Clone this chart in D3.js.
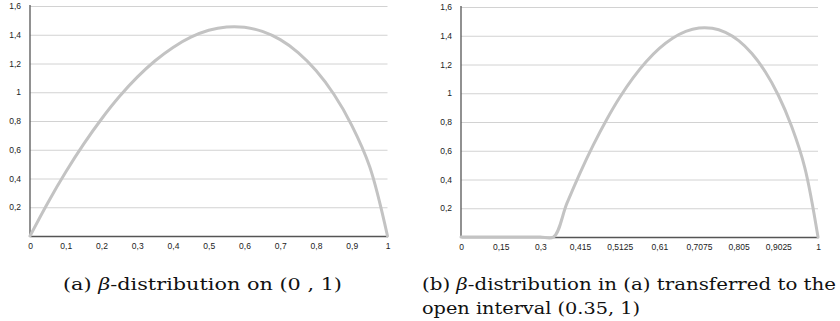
<!DOCTYPE html>
<html>
<head>
<meta charset="utf-8">
<script src="https://cdn.jsdelivr.net/npm/d3@7"></script>
<style>
  body { margin: 0; background: #fff; }
  svg { display: block; }
  .tick text { font-family: "Liberation Sans", Arial, sans-serif; font-size: 8.5px; fill: #222; }
  .caption { font-family: "DejaVu Serif", serif; font-size: 16px; fill: #111; }
</style>
</head>
<body>
<div id="chart"></div>
<script>
// left panel: beta density on (0,1), one category every 0.05
const leftX = [0, 0.05, 0.1, 0.15, 0.2, 0.25, 0.3, 0.35, 0.4, 0.45, 0.5,
  0.55, 0.6, 0.65, 0.7, 0.75, 0.8, 0.85, 0.9, 0.95, 1];
const leftY = [0, 0.232, 0.445, 0.639, 0.814, 0.970, 1.105, 1.219, 1.312, 1.383, 1.431,
  1.454, 1.452, 1.423, 1.366, 1.276, 1.151, 0.986, 0.770, 0.483, 0];
const leftTicks = [0, 0.1, 0.2, 0.3, 0.4, 0.5, 0.6, 0.7, 0.8, 0.9, 1];

// right panel: same density moved to (0.35,1)
const rightX = [0, 0.05, 0.1, 0.15, 0.2, 0.25, 0.3, 0.35,
  0.3825, 0.415, 0.4475, 0.48, 0.5125, 0.545, 0.5775, 0.61, 0.6425, 0.675,
  0.7075, 0.74, 0.7725, 0.805, 0.8375, 0.87, 0.9025, 0.935, 0.9675, 1];
const rightY = [0, 0, 0, 0, 0, 0, 0, 0,
  0.232, 0.445, 0.639, 0.814, 0.970, 1.105, 1.219, 1.312, 1.383, 1.431,
  1.454, 1.452, 1.423, 1.366, 1.276, 1.151, 0.986, 0.770, 0.483, 0];
const rightTicks = [0, 0.15, 0.3, 0.415, 0.5125, 0.61, 0.7075, 0.805, 0.9025, 1];

const yTicks = [0.2, 0.4, 0.6, 0.8, 1, 1.2, 1.4, 1.6];

const width = 840, height = 321;
const svg = d3.select("#chart").append("svg")
  .attr("width", width)
  .attr("height", height);

const fmt = v => String(v).replace(".", ",");

function drawPanel(xs, ys, ticks, box) {
  const g = svg.append("g");

  const x = d3.scalePoint()
    .domain(xs)
    .range([box.left, box.right]);

  const y = d3.scaleLinear()
    .domain([0, 1.6])
    .range([box.bottom, box.top]);

  // horizontal grid lines
  g.append("g")
    .attr("transform", `translate(${box.left},0)`)
    .call(d3.axisLeft(y).tickValues(yTicks).tickSize(-(box.right - box.left)).tickFormat(fmt))
    .call(a => a.select(".domain").remove())
    .call(a => a.selectAll(".tick line").attr("stroke", "#d2d2d2").attr("stroke-width", 1))
    .call(a => a.selectAll(".tick text").attr("x", -9));

  // axis lines
  g.append("line")
    .attr("x1", box.left).attr("x2", box.left)
    .attr("y1", box.top - 1).attr("y2", box.bottom)
    .attr("stroke", "#555").attr("stroke-width", 1.3);

  g.append("g")
    .attr("transform", `translate(0,${box.bottom})`)
    .call(d3.axisBottom(x).tickValues(ticks).tickSize(0).tickPadding(7).tickFormat(fmt))
    .call(a => a.select(".domain").attr("stroke", "#555").attr("stroke-width", 1.3));

  const line = d3.line()
    .x((d, i) => x(xs[i]))
    .y(d => y(d))
    .curve(d3.curveCatmullRom.alpha(0.5));

  g.append("path")
    .datum(ys)
    .attr("d", line)
    .attr("fill", "none")
    .attr("stroke", "#c3c3c3")
    .attr("stroke-width", 3)
    .attr("stroke-linejoin", "round")
    .attr("stroke-linecap", "round");
}

drawPanel(leftX, leftY, leftTicks, {left: 30, right: 387.5, top: 6, bottom: 236});
drawPanel(rightX, rightY, rightTicks, {left: 461, right: 818, top: 7, bottom: 237});

// captions
const capA = svg.append("text").attr("class", "caption")
  .attr("x", 63).attr("y", 290)
  .attr("textLength", 279).attr("lengthAdjust", "spacingAndGlyphs");
capA.append("tspan").text("(a) ");
capA.append("tspan").attr("font-style", "italic").text("β");
capA.append("tspan").text("-distribution on (0 , 1)");

const capB = svg.append("text").attr("class", "caption")
  .attr("x", 422).attr("y", 290)
  .attr("textLength", 414).attr("lengthAdjust", "spacingAndGlyphs");
capB.append("tspan").text("(b) ");
capB.append("tspan").attr("font-style", "italic").text("β");
capB.append("tspan").text("-distribution in (a) transferred to the");

svg.append("text").attr("class", "caption")
  .attr("x", 422).attr("y", 314)
  .attr("textLength", 218).attr("lengthAdjust", "spacingAndGlyphs")
  .text("open interval (0.35, 1)");
</script>
</body>
</html>
